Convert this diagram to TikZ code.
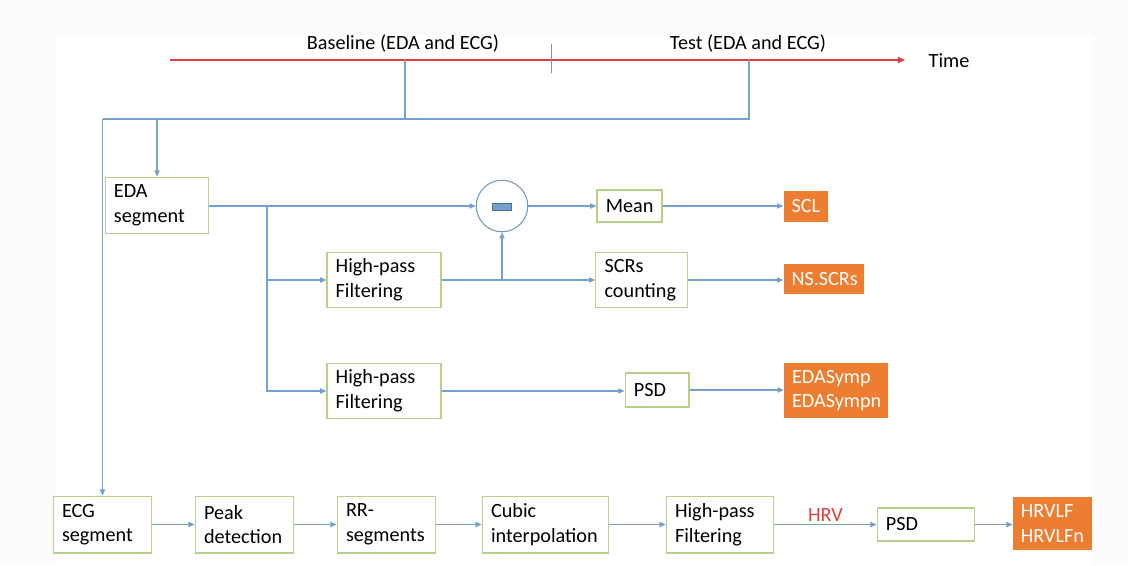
\documentclass[tikz,border=0pt]{standalone}
\usepackage{fontspec}
\setmainfont{Carlito}
\usetikzlibrary{arrows.meta}

\definecolor{verde}{RGB}{185,208,140}
\definecolor{azul}{RGB}{115,160,205}
\definecolor{laranja}{RGB}{237,125,49}
\definecolor{vermelho}{RGB}{222,62,62}

\begin{document}
\begin{tikzpicture}[
		  x=0.02cm, y=-0.02cm,
		  every node/.style={font=\fontsize{11.5}{14}\selectfont}
		]

		\tikzset{
		    caixa/.style 2 args={draw=verde, line width=0.7pt, fill=white, align=left, inner xsep=5pt, inner ysep=0pt, text width=#1, minimum height=#2},
		    saida/.style 2 args={fill=laranja, text=white, align=left, inner xsep=4.5pt, inner ysep=0pt, text width=#1, minimum height=#2},
		    linha/.style={draw=azul, line width=0.6pt},
		    seta/.style={linha, -{Triangle[length=3.5pt,width=3pt]}},
		    tempo/.style={draw=vermelho, line width=0.9pt, -{Triangle[length=4pt,width=3.5pt]}}
		}

		% Fundo
		\useasboundingbox (0,0) rectangle (1128,565);
		\fill[black!1.5] (0,0) rectangle (1128,565);
		\fill[white] (55,35) rectangle (1093,565);

		% Linha do tempo
		\coordinate (t0) at (170,60);
		\coordinate (t1) at (905,60);
		\draw[tempo] (t0) -- (t1);
		\node (time) at (949,61) {Time};
		\draw[azul!60!gray, line width=0.5pt] (551,44) -- (551,73);
		\node (base) at (403,44) {Baseline (EDA and ECG)};
		\node (teste) at (748,44) {Test (EDA and ECG)};

		% Ramo EDA
		\node[caixa={49pt}{32.3pt}] (eda) at (157,205.5) {EDA\\segment};
		\node[draw=azul!80!gray, line width=0.6pt, circle, minimum size=1.03cm, inner sep=0pt] (menos) at (502,206) {};
		\fill[azul, draw=azul!70!black, line width=0.4pt] (492,203) rectangle (511,210);
		\node[caixa={27pt}{18.1pt}] (mean) at (629.5,206) {Mean};
		\node[saida={16.5pt}{17.6pt}] (scl) at (806,206.5) {SCL};

		\node[caixa={55pt}{31.7pt}] (hpf1) at (384,280) {High-pass\\Filtering};
		\node[caixa={42pt}{31.2pt}] (scrs) at (641.5,280) {SCRs\\counting};
		\node[saida={37pt}{17pt}] (nsscrs) at (824,279) {NS.SCRs};

		\node[caixa={55pt}{31.7pt}] (hpf2) at (384,391) {High-pass\\Filtering};
		\node[caixa={26.3pt}{19.3pt}] (psd1) at (657,390) {PSD};
		\node[saida={50pt}{31.2pt}] (edasymp) at (836,390.5) {EDASymp\\EDASympn};

		% Ramo ECG
		\node[caixa={46.1pt}{32.3pt}] (ecg) at (102.5,524.5) {ECG\\segment};
		\node[caixa={46.1pt}{32.3pt}] (peak) at (244.5,524.5) {Peak\\detection};
		\node[caixa={46.1pt}{32.3pt}] (rr) at (386.5,524.5) {RR-\\segments};
		\node[caixa={62pt}{32.3pt}] (cubic) at (545.5,524.5) {Cubic\\interpolation};
		\node[caixa={51.2pt}{32.3pt}] (hpf3) at (720,524.5) {High-pass\\Filtering};
		\node[caixa={45.6pt}{18.7pt}] (psd2) at (926,524.5) {PSD};
		\node[saida={36pt}{30pt}] (hrvlf) at (1052.5,523.5) {HRVLF\\HRVLFn};

		% Ligacoes do topo
		\coordinate (b0) at (405,60);
		\coordinate (b1) at (749,60);
		\coordinate (j) at (0,119);
		\draw[linha] (b0) -- (b0 |- j);
		\draw[linha] (b1) |- (ecg.north |- j);
		\draw[seta] (ecg.north |- j) -- (ecg.north);
		\draw[seta] (eda.north |- j) -- (eda.north);

		% Setas EDA
		\coordinate (r) at (267,206);
		\draw[seta] (eda.east |- r) -- (menos.west);
		\draw[seta] (r) |- (hpf1.west);
		\draw[seta] (r) |- (hpf2.west);
		\draw[seta] (menos.east) -- (mean.west);
		\draw[seta] (mean.east) -- (scl.west |- mean.east);
		\draw[seta] (hpf1.east) -- (scrs.west);
		\draw[seta] (hpf1.east -| menos.south) -- (menos.south);
		\draw[seta] (scrs.east) -- (nsscrs.west |- scrs.east);
		\draw[seta] (hpf2.east) -- (psd1.west |- hpf2.east);
		\draw[seta] (psd1.east) -- (edasymp.west |- psd1.east);

		% Setas ECG
		\draw[seta] (ecg) -- (peak);
		\draw[seta] (peak) -- (rr);
		\draw[seta] (rr) -- (cubic);
		\draw[seta] (cubic) -- (hpf3);
		\draw[seta] (hpf3) -- (psd2) node[midway, above, inner sep=1.5pt, text=vermelho] (hrv) {HRV};
		\draw[seta] (psd2) -- (hrvlf.west |- psd2.east);

		\end{tikzpicture}
\end{document}
